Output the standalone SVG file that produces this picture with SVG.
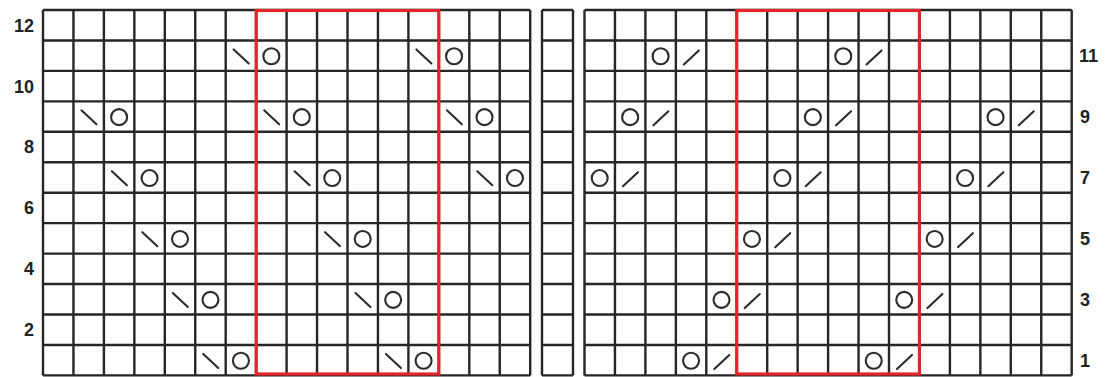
<svg xmlns="http://www.w3.org/2000/svg" xmlns:xlink="http://www.w3.org/1999/xlink" width="1110" height="377" viewBox="0 0 1110 377">
<style>
.grid{fill:none;stroke:#262626;stroke-width:2.4}
.red{fill:none;stroke:#e0262b;stroke-width:3.2}
.sym{fill:none;stroke:#2b2b2b;stroke-width:2.1;stroke-linecap:round}
.lbl{font-family:"Liberation Sans",Arial,sans-serif;font-weight:bold;font-size:18px;fill:#222}
</style>
<defs>
<g id="yo"><circle class="sym" cx="15.2" cy="15.8" r="8"/></g>
<g id="bs"><line class="sym" x1="8" y1="9" x2="23" y2="23"/></g>
<g id="fs"><line class="sym" x1="8" y1="24" x2="23" y2="10"/></g>
</defs>
<rect width="1110" height="377" fill="#fff"/>
<g id="left-chart">
<path class="grid" d="M43 10V375.4M73.45 10V375.4M103.9 10V375.4M134.35 10V375.4M164.8 10V375.4M195.25 10V375.4M225.7 10V375.4M256.15 10V375.4M286.6 10V375.4M317.05 10V375.4M347.5 10V375.4M377.95 10V375.4M408.4 10V375.4M438.85 10V375.4M469.3 10V375.4M499.75 10V375.4M530.2 10V375.4M43 10H530.2M43 40.45H530.2M43 70.9H530.2M43 101.35H530.2M43 131.8H530.2M43 162.25H530.2M43 192.7H530.2M43 223.15H530.2M43 253.6H530.2M43 284.05H530.2M43 314.5H530.2M43 344.95H530.2M43 375.4H530.2"/>
<g id="left-symbols">
<use href="#bs" x="195.25" y="344.95"/><use href="#yo" x="225.7" y="344.95"/>
<use href="#bs" x="377.95" y="344.95"/><use href="#yo" x="408.4" y="344.95"/>
<use href="#bs" x="164.8" y="284.05"/><use href="#yo" x="195.25" y="284.05"/>
<use href="#bs" x="347.5" y="284.05"/><use href="#yo" x="377.95" y="284.05"/>
<use href="#bs" x="134.35" y="223.15"/><use href="#yo" x="164.8" y="223.15"/>
<use href="#bs" x="317.05" y="223.15"/><use href="#yo" x="347.5" y="223.15"/>
<use href="#bs" x="103.9" y="162.25"/><use href="#yo" x="134.35" y="162.25"/>
<use href="#bs" x="286.6" y="162.25"/><use href="#yo" x="317.05" y="162.25"/>
<use href="#bs" x="469.3" y="162.25"/><use href="#yo" x="499.75" y="162.25"/>
<use href="#bs" x="73.45" y="101.35"/><use href="#yo" x="103.9" y="101.35"/>
<use href="#bs" x="256.15" y="101.35"/><use href="#yo" x="286.6" y="101.35"/>
<use href="#bs" x="438.85" y="101.35"/><use href="#yo" x="469.3" y="101.35"/>
<use href="#bs" x="225.7" y="40.45"/><use href="#yo" x="256.15" y="40.45"/>
<use href="#bs" x="408.4" y="40.45"/><use href="#yo" x="438.85" y="40.45"/>
</g>
<rect id="left-repeat" class="red" x="256.15" y="10.5" width="182.7" height="363.5"/>
</g>
<g id="middle-column">
<path class="grid" d="M542 10V375.4M573 10V375.4M542 10H573M542 40.45H573M542 70.9H573M542 101.35H573M542 131.8H573M542 162.25H573M542 192.7H573M542 223.15H573M542 253.6H573M542 284.05H573M542 314.5H573M542 344.95H573M542 375.4H573"/>
</g>
<g id="right-chart">
<path class="grid" d="M584.5 10V375.4M614.95 10V375.4M645.4 10V375.4M675.85 10V375.4M706.3 10V375.4M736.75 10V375.4M767.2 10V375.4M797.65 10V375.4M828.1 10V375.4M858.55 10V375.4M889 10V375.4M919.45 10V375.4M949.9 10V375.4M980.35 10V375.4M1010.8 10V375.4M1041.25 10V375.4M1071.7 10V375.4M584.5 10H1071.7M584.5 40.45H1071.7M584.5 70.9H1071.7M584.5 101.35H1071.7M584.5 131.8H1071.7M584.5 162.25H1071.7M584.5 192.7H1071.7M584.5 223.15H1071.7M584.5 253.6H1071.7M584.5 284.05H1071.7M584.5 314.5H1071.7M584.5 344.95H1071.7M584.5 375.4H1071.7"/>
<g id="right-symbols">
<use href="#yo" x="675.85" y="344.95"/><use href="#fs" x="706.3" y="344.95"/>
<use href="#yo" x="858.55" y="344.95"/><use href="#fs" x="889" y="344.95"/>
<use href="#yo" x="706.3" y="284.05"/><use href="#fs" x="736.75" y="284.05"/>
<use href="#yo" x="889" y="284.05"/><use href="#fs" x="919.45" y="284.05"/>
<use href="#yo" x="736.75" y="223.15"/><use href="#fs" x="767.2" y="223.15"/>
<use href="#yo" x="919.45" y="223.15"/><use href="#fs" x="949.9" y="223.15"/>
<use href="#yo" x="584.5" y="162.25"/><use href="#fs" x="614.95" y="162.25"/>
<use href="#yo" x="767.2" y="162.25"/><use href="#fs" x="797.65" y="162.25"/>
<use href="#yo" x="949.9" y="162.25"/><use href="#fs" x="980.35" y="162.25"/>
<use href="#yo" x="614.95" y="101.35"/><use href="#fs" x="645.4" y="101.35"/>
<use href="#yo" x="797.65" y="101.35"/><use href="#fs" x="828.1" y="101.35"/>
<use href="#yo" x="980.35" y="101.35"/><use href="#fs" x="1010.8" y="101.35"/>
<use href="#yo" x="645.4" y="40.45"/><use href="#fs" x="675.85" y="40.45"/>
<use href="#yo" x="828.1" y="40.45"/><use href="#fs" x="858.55" y="40.45"/>
</g>
<rect id="right-repeat" class="red" x="736.75" y="10.5" width="182.7" height="363.5"/>
</g>
<g id="row-labels-left">
<text class="lbl" x="34" y="31.6" text-anchor="end">12</text>
<text class="lbl" x="34" y="92.5" text-anchor="end">10</text>
<text class="lbl" x="34" y="153.4" text-anchor="end">8</text>
<text class="lbl" x="34" y="214.3" text-anchor="end">6</text>
<text class="lbl" x="34" y="275.2" text-anchor="end">4</text>
<text class="lbl" x="34" y="336.1" text-anchor="end">2</text>
</g>
<g id="row-labels-right">
<text class="lbl" x="1079" y="62.1">11</text>
<text class="lbl" x="1080" y="123">9</text>
<text class="lbl" x="1080" y="183.9">7</text>
<text class="lbl" x="1080" y="244.8">5</text>
<text class="lbl" x="1080" y="305.7">3</text>
<text class="lbl" x="1080" y="366.6">1</text>
</g>
</svg>
